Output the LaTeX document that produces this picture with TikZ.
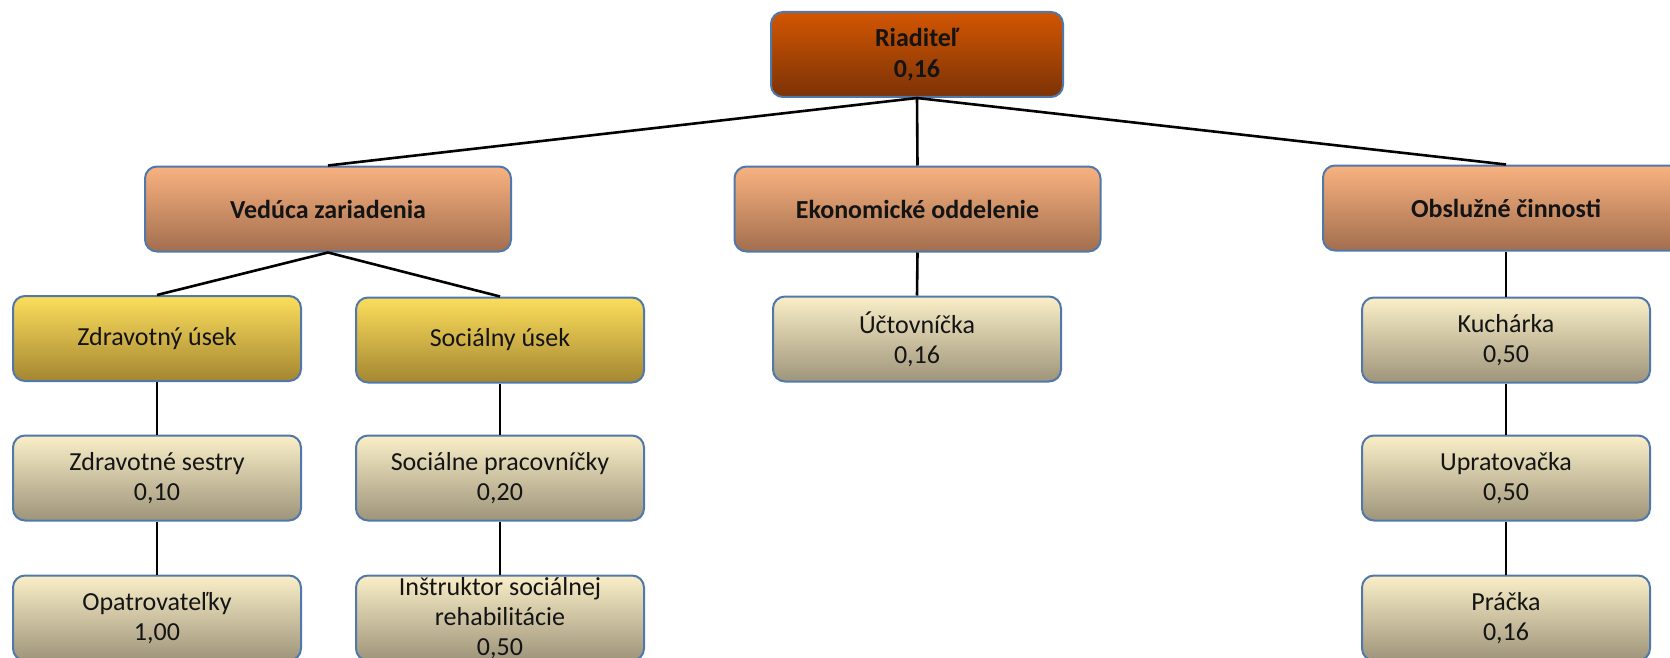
\documentclass[tikz,border=0pt]{standalone}
\usepackage{fontspec}
\setmainfont{Carlito}

\definecolor{edgeblue}{RGB}{80,120,170}
\definecolor{riadtop}{RGB}{210,86,2}
\definecolor{riadbot}{RGB}{124,50,6}
\definecolor{oddtop}{RGB}{249,178,128}
\definecolor{oddbot}{RGB}{162,110,78}
\definecolor{usektop}{RGB}{252,222,92}
\definecolor{usekbot}{RGB}{164,134,50}
\definecolor{listtop}{RGB}{250,239,200}
\definecolor{listbot}{RGB}{158,148,122}

\tikzset{
  box/.style={draw=edgeblue, line width=2pt, rounded corners=12pt, align=center,
    inner sep=0pt, minimum width=288pt, minimum height=85pt, text=black!92,
    font=\fontsize{26}{30}\selectfont},
  riadbox/.style={box, top color=riadtop, bottom color=riadbot, minimum width=292pt,
    font=\fontsize{26}{31}\selectfont\bfseries},
  oddbox/.style={box, top color=oddtop, bottom color=oddbot, minimum width=366pt,
    font=\fontsize{26}{30}\selectfont\bfseries},
  usekbox/.style={box, top color=usektop, bottom color=usekbot},
  listbox/.style={box, top color=listtop, bottom color=listbot},
  link/.style={line width=2.6pt, black}
}

\begin{document}
\begin{tikzpicture}[x=1pt, y=-1pt]
            \useasboundingbox (0,0) rectangle (1670,658);
            \node[riadbox] (riad) at (917,54.5) {Riaditeľ\\0,16};

            \node[oddbox] (ved) at (328,209) {Vedúca zariadenia};
            \node[oddbox] (eko) at (917.5,209) {Ekonomické oddelenie};
            \node[oddbox] (obs) at (1506,208) {Obslužné činnosti};

            \node[usekbox] (zdr) at (157,338.5) {Zdravotný úsek};
            \node[usekbox] (soc) at (500,340) {Sociálny úsek};
            \node[listbox] (uct) at (917,339) {Účtovníčka\\0,16};
            \node[listbox] (kuch) at (1506,340) {Kuchárka\\0,50};

            \node[listbox] (sestry) at (157,478) {Zdravotné sestry\\0,10};
            \node[listbox] (prac) at (500,478) {Sociálne pracovníčky\\0,20};
            \node[listbox] (uprat) at (1506,478) {Upratovačka\\0,50};

            \node[listbox] (opatr) at (157,618) {Opatrovateľky\\1,00};
            \node[listbox] (instr) at (500,618) {Inštruktor sociálnej\\rehabilitácie\\0,50};
            \node[listbox] (pracka) at (1506,618) {Práčka\\0,16};

            \draw[link] (riad.south) -- (ved.north);
            \draw[link] (riad.south) -- (eko.north);
            \draw[link] (riad.south) -- (obs.north);
            \draw[link] (ved.south) -- (zdr.north);
            \draw[link] (ved.south) -- (soc.north);
            \draw[link] (eko.south) -- (uct.north);
            \draw[link] (obs.south) -- (kuch.north);
            \draw[link] (zdr.south) -- (sestry.north);
            \draw[link] (soc.south) -- (prac.north);
            \draw[link] (kuch.south) -- (uprat.north);
            \draw[link] (sestry.south) -- (opatr.north);
            \draw[link] (prac.south) -- (instr.north);
            \draw[link] (uprat.south) -- (pracka.north);
    \end{tikzpicture}
\end{document}
